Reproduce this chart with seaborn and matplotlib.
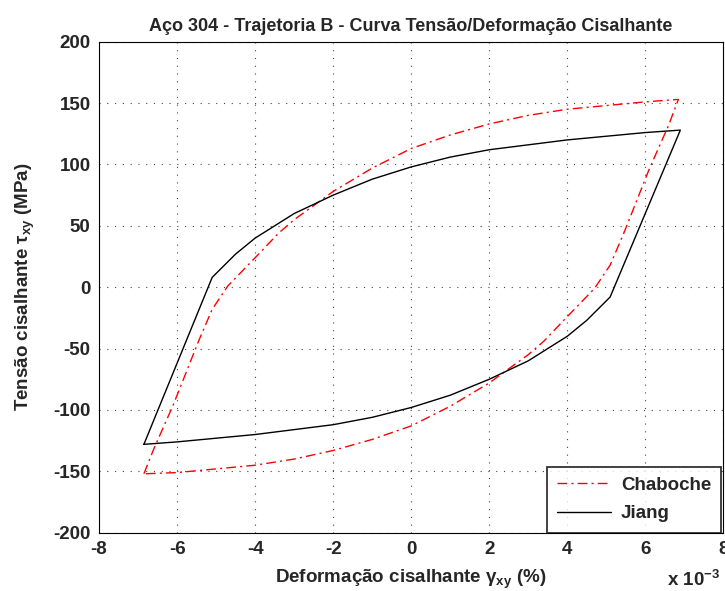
import numpy as np
import pandas as pd
import matplotlib
matplotlib.use("Agg")
import matplotlib.pyplot as plt
import seaborn as sns

# Jiang model (upper branch, then lower branch) - strain in units of 1e-3
jiang_up_x = [-6.85, -5.1, -4.5, -4.0, -3.0, -2.0, -1.0, 0.0, 1.0, 2.0, 3.0, 4.0, 5.0, 6.0, 6.9]
jiang_up_y = [-128, 8, 27, 40, 60, 75, 88, 98, 106, 112, 116, 120, 123, 126, 128]
jiang_dn_x = [6.9, 5.1, 4.5, 4.0, 3.0, 2.0, 1.0, 0.0, -1.0, -2.0, -3.0, -4.0, -5.0, -6.0, -6.85]
jiang_dn_y = [128, -8, -27, -40, -60, -75, -88, -98, -106, -112, -116, -120, -123, -126, -128]

# Chaboche model
chab_up_x = [-6.85, -6.6, -6.1, -5.45, -5.1, -4.7, -4.0, -3.4, -3.0, -2.0, -1.0, 0.0, 1.0, 2.0, 3.0, 4.0, 5.0, 6.0, 6.85]
chab_up_y = [-152, -132, -96, -44, -18, 1, 24, 44, 55, 78, 97, 113, 124, 133, 140, 145, 148, 151, 153]
chab_dn_x = [6.85, 6.6, 6.1, 5.45, 5.1, 4.7, 4.0, 3.4, 3.0, 2.0, 1.0, 0.0, -1.0, -2.0, -3.0, -4.0, -5.0, -6.0, -6.85]
chab_dn_y = [153, 132, 96, 44, 18, -1, -24, -44, -55, -78, -97, -113, -124, -133, -140, -145, -148, -151, -152]

xticks = [-8, -6, -4, -2, 0, 2, 4, 6, 8]
yticks = [-200, -150, -100, -50, 0, 50, 100, 150, 200]

sns.set_theme(style="white")
plt.rcParams['font.family'] = ['Liberation Sans', 'DejaVu Sans']
plt.rcParams['mathtext.fontset'] = 'custom'
plt.rcParams['mathtext.rm'] = 'Liberation Sans:bold'
plt.rcParams['mathtext.it'] = 'Liberation Sans:bold'
plt.rcParams['mathtext.bf'] = 'Liberation Sans:bold'

fig = plt.figure(figsize=(7.25, 5.91), dpi=100)
ax = fig.add_axes([0.1366, 0.0986, 0.861, 0.8308])

chab = pd.DataFrame({"x": chab_up_x + chab_dn_x, "y": chab_up_y + chab_dn_y})
chab["order"] = range(len(chab))
jiang = pd.DataFrame({"x": jiang_up_x + jiang_dn_x, "y": jiang_up_y + jiang_dn_y})
jiang["order"] = range(len(jiang))

sns.lineplot(data=chab, x="x", y="y", sort=False, estimator=None, ax=ax,
             color="#ff0000", lw=1.0, dashes=False, label="Chaboche")
ax.lines[-1].set_linestyle((0, (7, 3, 1.5, 3)))
sns.lineplot(data=jiang, x="x", y="y", sort=False, estimator=None, ax=ax,
             color="black", lw=1.0, label="Jiang")

ax.set_xlim(-8, 8)
ax.set_ylim(-200, 200)
ax.set_xticks(xticks)
ax.set_yticks(yticks)
ax.set_xticklabels([str(t) for t in xticks], fontsize=13.5, fontweight="bold")
ax.set_yticklabels([str(t) for t in yticks], fontsize=13.5, fontweight="bold")
ax.tick_params(direction="in", length=5, width=0.8, color="black", pad=6)
ax.grid(True, linestyle=(0, (1, 6)), color="#444444", linewidth=0.8)
for s in ax.spines.values():
    s.set_color("black")
    s.set_linewidth(0.8)

ax.set_title("Aço 304 - Trajetoria B - Curva Tensão/Deformação Cisalhante",
             fontsize=13, fontweight="bold", pad=8)
ax.set_xlabel(r"Deformação cisalhante $\gamma_{xy}$ (%)", fontsize=13.5, fontweight="bold", labelpad=7)
ax.set_ylabel(r"Tensão cisalhante $\tau_{xy}$ (MPa)", fontsize=13.5, fontweight="bold", labelpad=12)
ax.text(0.995, -0.075, r"x 10$^{-3}$", transform=ax.transAxes, ha="right", va="top",
        fontsize=13.5, fontweight="bold")

leg = ax.legend(loc="lower right", fontsize=13.5, frameon=True, fancybox=False,
                borderaxespad=0.0, handlelength=2.9, handletextpad=0.5,
                borderpad=0.55, labelspacing=0.6, bbox_to_anchor=(0.997, 0.0))
leg.get_frame().set_edgecolor("black")
leg.get_frame().set_linewidth(1.3)
for t in leg.get_texts():
    t.set_fontweight("bold")

fig.savefig("out.png", dpi=100)
